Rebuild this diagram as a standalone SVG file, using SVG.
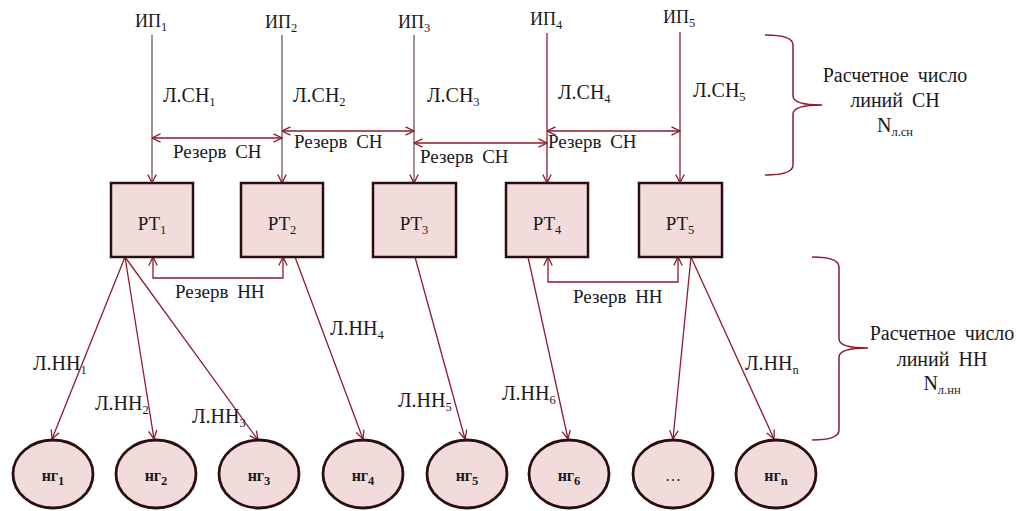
<svg xmlns="http://www.w3.org/2000/svg" width="1021" height="511" viewBox="0 0 1021 511">
  <style>
    .t { font-family: "Liberation Serif", "Times New Roman", Tinos, "DejaVu Serif", serif; fill: #1a1a1a; }
    .lbl { font-size: 19px; word-spacing: 4px; }
    .line-name { font-size: 20px; }
    .src { font-size: 18px; }
    .big { font-size: 20px; word-spacing: 4px; }
    .sub { font-size: 12.5px; }
    .rt { font-size: 19px; text-anchor: middle; }
    .ng { font-size: 16px; font-weight: bold; text-anchor: middle; }
    .box { fill: #f2dcdb; stroke: #2a0d0f; stroke-width: 2.5; }
    .load { fill: #f2dcdb; stroke: #2a0d0f; stroke-width: 2.8; }
    .ln { fill: none; stroke: #8b1d2e; stroke-width: 1.3; }
    .ln.g { stroke: #6f5658; }
    .brace { fill: none; stroke: #8b1d2e; stroke-width: 1.5; }
    .arr { marker-end: url(#head); }
    .both { marker-start: url(#head); marker-end: url(#head); }
  </style>
  <defs>
    <marker id="head" viewBox="0 0 10 10" refX="9.5" refY="5" markerWidth="10" markerHeight="10" markerUnits="userSpaceOnUse" orient="auto-start-reverse">
      <path d="M1,0.8 L9.5,5 L1,9.2" fill="none" stroke="#8b1d2e" stroke-width="1.3"/>
    </marker>
  </defs>

  <!-- connectors -->
  <g id="connectors">
    <!-- medium-voltage feeders from sources to substations -->
    <line class="ln g arr" x1="152" y1="35" x2="152" y2="183"/>
    <line class="ln g arr" x1="282" y1="35" x2="282" y2="183"/>
    <line class="ln g arr" x1="414" y1="35" x2="414" y2="183"/>
    <line class="ln arr" x1="547" y1="33" x2="547" y2="183"/>
    <line class="ln arr" x1="680" y1="32" x2="680" y2="183"/>
    <!-- medium-voltage reserve ties -->
    <line class="ln both" x1="152" y1="138" x2="282" y2="138"/>
    <line class="ln both" x1="282" y1="131" x2="414" y2="131"/>
    <line class="ln both" x1="414" y1="143" x2="547" y2="143"/>
    <line class="ln both" x1="547" y1="131" x2="680" y2="131"/>
    <!-- low-voltage reserve ties -->
    <path class="ln both" d="M153,257 L153,278 L283,278 L283,257"/>
    <path class="ln both" d="M548,257 L548,282 L678,282 L678,257"/>
    <!-- low-voltage feeders to loads -->
    <line class="ln arr" x1="125" y1="257" x2="52" y2="439"/>
    <line class="ln arr" x1="125" y1="257" x2="154" y2="439"/>
    <line class="ln arr" x1="125" y1="257" x2="258" y2="440"/>
    <line class="ln arr" x1="295" y1="257" x2="363" y2="439"/>
    <line class="ln arr" x1="415" y1="257" x2="465" y2="439"/>
    <line class="ln arr" x1="528" y1="257" x2="568" y2="439"/>
    <line class="ln arr" x1="691" y1="257" x2="673" y2="439"/>
    <line class="ln arr" x1="691" y1="257" x2="774" y2="439"/>
  </g>

  <!-- connector labels -->
  <g id="labels" class="t">
    <text class="src" x="135" y="27">ИП<tspan class="sub" dy="4">1</tspan></text>
    <text class="src" x="265" y="28">ИП<tspan class="sub" dy="4">2</tspan></text>
    <text class="src" x="398" y="28">ИП<tspan class="sub" dy="4">3</tspan></text>
    <text class="src" x="530" y="25">ИП<tspan class="sub" dy="4">4</tspan></text>
    <text class="src" x="663" y="23">ИП<tspan class="sub" dy="4">5</tspan></text>

    <text class="line-name" x="163" y="102">Л.СН<tspan class="sub" dy="4">1</tspan></text>
    <text class="line-name" x="293" y="102">Л.СН<tspan class="sub" dy="4">2</tspan></text>
    <text class="line-name" x="427" y="102">Л.СН<tspan class="sub" dy="4">3</tspan></text>
    <text class="line-name" x="558" y="99">Л.СН<tspan class="sub" dy="4">4</tspan></text>
    <text class="line-name" x="693" y="97">Л.СН<tspan class="sub" dy="4">5</tspan></text>

    <text class="lbl" x="173" y="158">Резерв СН</text>
    <text class="lbl" x="294" y="148">Резерв СН</text>
    <text class="lbl" x="420" y="163">Резерв СН</text>
    <text class="lbl" x="548" y="148">Резерв СН</text>

    <text class="lbl" x="175" y="298">Резерв НН</text>
    <text class="lbl" x="573" y="303">Резерв НН</text>

    <text class="line-name" x="33" y="370">Л.НН<tspan class="sub" dy="4">1</tspan></text>
    <text class="line-name" x="95" y="410">Л.НН<tspan class="sub" dy="4">2</tspan></text>
    <text class="line-name" x="192" y="423">Л.НН<tspan class="sub" dy="4">3</tspan></text>
    <text class="line-name" x="330" y="335">Л.НН<tspan class="sub" dy="4">4</tspan></text>
    <text class="line-name" x="398" y="407">Л.НН<tspan class="sub" dy="4">5</tspan></text>
    <text class="line-name" x="502" y="400">Л.НН<tspan class="sub" dy="4">6</tspan></text>
    <text class="line-name" x="745" y="370">Л.НН<tspan class="sub" dy="4">n</tspan></text>
  </g>

  <!-- braces with design line counts -->
  <g id="count-mv">
    <path class="brace" d="M765,35 Q793,35 793,45 L793,96 Q793,105 822,105 Q793,105 793,114 L793,165 Q793,175 765,175"/>
    <text class="t big" x="895" y="82" text-anchor="middle">Расчетное число</text>
    <text class="t big" x="895" y="107" text-anchor="middle">линий СН</text>
    <text class="t big" x="895" y="132" text-anchor="middle">N<tspan class="sub" dy="4">л.сн</tspan></text>
  </g>
  <g id="count-lv">
    <path class="brace" d="M812,257 Q839,257 839,267 L839,339 Q839,348 868,348 Q839,348 839,357 L839,430 Q839,440 812,440"/>
    <text class="t big" x="942" y="340" text-anchor="middle">Расчетное число</text>
    <text class="t big" x="942" y="366" text-anchor="middle">линий НН</text>
    <text class="t big" x="942" y="390" text-anchor="middle">N<tspan class="sub" dy="4">л.нн</tspan></text>
  </g>

  <!-- substations -->
  <g id="rt1"><rect class="box" x="111" y="183" width="82" height="74"/><text class="t rt" x="152" y="230">РТ<tspan class="sub" dy="4">1</tspan></text></g>
  <g id="rt2"><rect class="box" x="241" y="183" width="82" height="74"/><text class="t rt" x="282" y="230">РТ<tspan class="sub" dy="4">2</tspan></text></g>
  <g id="rt3"><rect class="box" x="373" y="183" width="83" height="74"/><text class="t rt" x="414" y="230">РТ<tspan class="sub" dy="4">3</tspan></text></g>
  <g id="rt4"><rect class="box" x="506" y="183" width="82" height="74"/><text class="t rt" x="547" y="230">РТ<tspan class="sub" dy="4">4</tspan></text></g>
  <g id="rt5"><rect class="box" x="639" y="183" width="83" height="74"/><text class="t rt" x="680" y="230">РТ<tspan class="sub" dy="4">5</tspan></text></g>

  <!-- load groups -->
  <g id="ng1"><ellipse class="load" cx="53" cy="474" rx="40" ry="34"/><text class="t ng" x="53" y="481">нг<tspan class="sub" dy="4">1</tspan></text></g>
  <g id="ng2"><ellipse class="load" cx="156" cy="474" rx="40" ry="34"/><text class="t ng" x="156" y="481">нг<tspan class="sub" dy="4">2</tspan></text></g>
  <g id="ng3"><ellipse class="load" cx="259" cy="474" rx="40" ry="34"/><text class="t ng" x="259" y="481">нг<tspan class="sub" dy="4">3</tspan></text></g>
  <g id="ng4"><ellipse class="load" cx="363" cy="474" rx="40" ry="34"/><text class="t ng" x="363" y="481">нг<tspan class="sub" dy="4">4</tspan></text></g>
  <g id="ng5"><ellipse class="load" cx="467" cy="474" rx="40" ry="34"/><text class="t ng" x="467" y="481">нг<tspan class="sub" dy="4">5</tspan></text></g>
  <g id="ng6"><ellipse class="load" cx="569" cy="474" rx="40" ry="34"/><text class="t ng" x="569" y="481">нг<tspan class="sub" dy="4">6</tspan></text></g>
  <g id="ng-more"><ellipse class="load" cx="673" cy="474" rx="40" ry="34"/><text class="t ng" x="673" y="481" style="font-weight:normal">…</text></g>
  <g id="ngn"><ellipse class="load" cx="776" cy="474" rx="40" ry="34"/><text class="t ng" x="776" y="481">нг<tspan class="sub" dy="4">n</tspan></text></g>
</svg>
